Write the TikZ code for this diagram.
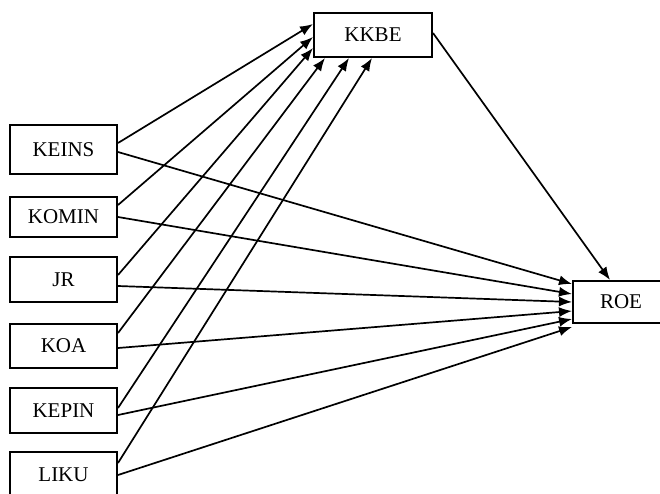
\documentclass[tikz,border=0pt]{standalone}
\usepackage{fontspec}
\setmainfont{Liberation Serif}
\usetikzlibrary{arrows.meta}
\begin{document}
\begin{tikzpicture}[x=1pt,y=-1pt,
  box/.style={draw,line width=2pt,rectangle,inner sep=0pt,font=\fontsize{21}{25}\selectfont},
  arr/.style={line width=1.7pt,-{Latex[length=13pt,width=10pt]}}]
\useasboundingbox (0,0) rectangle (660,493);
\clip (0,0) rectangle (660,493);
\node[box,minimum width=107pt,minimum height=49pt] (KEINS) at (63.5,149.5) {KEINS};
\node[box,minimum width=107pt,minimum height=40pt] (KOMIN) at (63.5,217) {KOMIN};
\node[box,minimum width=107pt,minimum height=45pt] (JR) at (63.5,279.5) {JR};
\node[box,minimum width=107pt,minimum height=44pt] (KOA) at (63.5,346) {KOA};
\node[box,minimum width=107pt,minimum height=45pt] (KEPIN) at (63.5,410.5) {KEPIN};
\node[box,minimum width=107pt,minimum height=45pt] (LIKU) at (63.5,474.5) {LIKU};
\node[box,minimum width=118pt,minimum height=44pt] (KKBE) at (373,35) {KKBE};
\node[box,minimum width=96pt,minimum height=42pt] (ROE) at (621,302) {ROE};
% to KKBE
\draw[arr] ([yshift=6.5pt]KEINS.east) -- ([yshift=11pt]KKBE.west);
\draw[arr] ([yshift=12pt]KOMIN.east) -- ([yshift=-2pt]KKBE.west);
\draw[arr] ([yshift=4.5pt]JR.east) -- ([yshift=-13pt]KKBE.west);
\draw[arr] ([yshift=13pt]KOA.east) -- ([xshift=-48pt]KKBE.south);
\draw[arr] ([yshift=2.5pt]KEPIN.east) -- ([xshift=-24pt]KKBE.south);
\draw[arr] ([yshift=11.5pt]LIKU.east) -- ([xshift=-1pt]KKBE.south);
% to ROE
\draw[arr] ([yshift=-2.5pt]KEINS.east) -- ([yshift=18pt]ROE.west);
\draw[arr] (KOMIN.east) -- ([yshift=8pt]ROE.west);
\draw[arr] ([yshift=-6.5pt]JR.east) -- (ROE.west);
\draw[arr] ([yshift=-2pt]KOA.east) -- ([yshift=-9pt]ROE.west);
\draw[arr] ([yshift=-4.5pt]KEPIN.east) -- ([yshift=-17pt]ROE.west);
\draw[arr] ([yshift=-0.5pt]LIKU.east) -- ([yshift=-25pt]ROE.west);
% KKBE to ROE
\draw[arr] ([yshift=2pt]KKBE.east) -- ([xshift=-11pt]ROE.north);
\end{tikzpicture}
\end{document}
